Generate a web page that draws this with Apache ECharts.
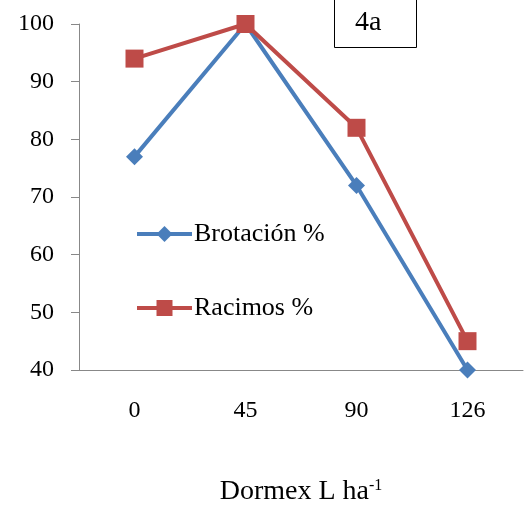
<!DOCTYPE html>
<html><head><meta charset="utf-8">
<script src="https://cdn.jsdelivr.net/npm/echarts@6/dist/echarts.min.js"></script>
<style>html,body{margin:0;padding:0;background:#fff}#c{width:524px;height:505px}</style>
</head><body><div id="c"></div>
<script>
const categories = ['0', '45', '90', '126'];
const brotacion = [77, 100, 72, 40];
const racimos = [94, 100, 82, 45];
const seriesNames = ['Brotación %', 'Racimos %'];
const panelLabel = '4a';

const font = '"Liberation Serif", "Times New Roman", serif';
const chart = echarts.init(document.getElementById('c'));
chart.setOption({
  animation: false,
  backgroundColor: '#fff',
  grid: { left: 79, right: 1, top: 24, bottom: 135, containLabel: false, outerBoundsMode: 'none' },
  xAxis: {
    type: 'category', data: categories, boundaryGap: true,
    axisLine: { lineStyle: { color: '#888', width: 1 } },
    axisTick: { length: 8, lineStyle: { color: '#888' } },
    axisLabel: { margin: 29, fontFamily: font, fontSize: 24, color: '#000' },
    name: 'Dormex L ha{s|-1}', nameLocation: 'middle', nameGap: 108,
    nameTextStyle: { fontFamily: font, fontSize: 28, color: '#000',
      rich: { s: { fontFamily: font, fontSize: 16, verticalAlign: 'top', padding: [0,0,12,0], color: '#000' } } }
  },
  yAxis: {
    type: 'value', min: 40, max: 100, interval: 10,
    axisLine: { show: true, lineStyle: { color: '#888', width: 1 } },
    axisTick: { show: true, length: 8, lineStyle: { color: '#888' } },
    splitLine: { show: false },
    axisLabel: { margin: 25, fontFamily: font, fontSize: 24, color: '#000' }
  },
  legend: {
    orient: 'vertical', left: 135, top: 221, padding: 0, itemWidth: 55, itemHeight: 20, itemGap: 48,
    lineStyle: { width: 4 },
    textStyle: { fontFamily: font, fontSize: 26, color: '#000', padding: [0,0,0,-3] },
    data: seriesNames
  },
  series: [
    { name: seriesNames[0], type: 'line', data: brotacion, symbol: 'diamond', symbolSize: 17,
      lineStyle: { color: '#4a7ebb', width: 4 }, itemStyle: { color: '#4a7ebb' }, z: 2 },
    { name: seriesNames[1], type: 'line', data: racimos, symbol: 'rect', symbolSize: 18,
      lineStyle: { color: '#be4b48', width: 4 }, itemStyle: { color: '#be4b48' }, z: 3 }
  ],
  graphic: [
    { type: 'rect', left: 334, top: -1, shape: { width: 82, height: 48 },
      style: { fill: '#fff', stroke: '#000', lineWidth: 1 } },
    { type: 'text', left: 355, top: 9, style: { text: panelLabel, font: '28px "Liberation Serif", serif', fill: '#000' } }
  ]
});
</script></body></html>
